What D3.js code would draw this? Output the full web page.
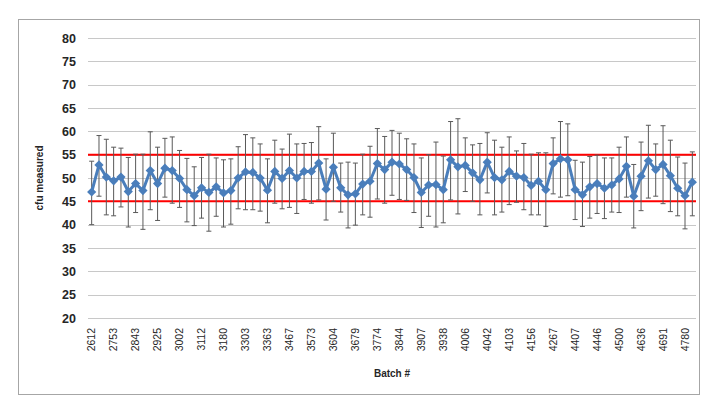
<!DOCTYPE html>
<html>
<head>
<meta charset="utf-8">
<script src="https://cdn.jsdelivr.net/npm/d3@7"></script>
<style>
  html, body { margin: 0; padding: 0; background: #ffffff; }
  svg { display: block; }
</style>
</head>
<body>
<svg id="chart" width="720" height="411"></svg>
<script>
// ---- data ----
const tickLabels = ["2612","2753","2843","2925","3002","3112","3180","3303","3363","3467","3573","3604","3679","3774",
  "3844","3907","3938","4006","4042","4103","4156","4267","4407","4446","4500","4636","4691","4780"];
const labelEvery = 3;
const measured = [47.0,52.8,50.2,49.4,50.2,47.1,48.8,47.3,51.6,48.8,52.1,51.6,49.9,47.5,46.2,47.9,46.9,
  48.1,46.8,47.3,50.0,51.3,51.2,50.0,47.4,51.4,49.9,51.6,50.0,51.4,51.4,53.2,47.6,52.3,47.9,46.4,46.6,
  48.7,49.3,53.1,51.8,53.4,53.0,51.8,50.1,46.9,48.5,48.6,47.5,53.9,52.4,52.7,51.1,49.6,53.4,50.1,49.6,
  51.4,50.4,50.1,48.4,49.3,47.5,53.1,54.1,53.9,47.5,46.4,48.1,48.8,47.8,48.5,49.8,52.5,46.1,50.4,53.7,
  51.8,52.9,50.5,47.8,46.2,49.1];
const upper = [53.6,59.1,58.3,56.6,56.4,54.4,55.1,55.1,59.9,56.6,58.5,58.8,55.9,54.2,52.4,54.4,55.1,
  54.3,53.9,54.1,56.7,59.3,58.6,57.3,54.1,58.1,56.2,59.4,57.3,57.4,57.6,61.0,54.1,59.6,53.2,53.4,53.2,
  55.1,56.8,60.6,58.9,60.2,59.6,58.4,57.3,54.3,55.0,57.7,54.7,62.1,62.7,58.6,57.1,57.4,59.7,58.1,56.6,
  58.8,55.8,57.4,55.1,55.4,55.4,58.6,62.1,61.6,53.8,53.4,54.6,54.9,54.3,54.3,56.6,58.8,52.9,57.7,61.3,
  57.3,61.2,58.1,54.5,53.2,55.6];
const lower = [40.0,46.1,42.1,41.9,43.8,39.5,42.6,39.0,43.2,40.9,45.9,44.6,43.7,40.6,39.8,41.4,38.6,
  41.8,39.5,40.1,43.4,43.2,43.2,42.9,40.4,44.6,43.4,43.7,42.4,45.4,44.6,45.3,41.0,45.0,42.7,39.3,39.9,
  42.1,41.6,45.5,44.6,46.3,45.4,45.2,42.6,39.4,41.8,39.5,40.4,45.3,42.3,47.1,45.0,42.1,46.8,42.1,42.7,
  44.3,44.8,43.2,42.1,42.1,39.6,46.6,45.9,46.2,41.1,39.6,41.4,42.4,41.3,42.7,42.6,45.9,39.3,43.0,45.7,
  46.1,44.5,42.8,41.9,39.1,41.9];
const limits = [45, 55];
const yTicks = d3.range(20, 81, 5);
const yTitle = "cfu measured";
const xTitle = "Batch #";

// ---- layout ----
const svg = d3.select("#chart");
const L = 88, R = 696, T = 38, B = 318;
const fontFam = "'Liberation Sans', Arial, sans-serif";

svg.append("rect").attr("x", 18.5).attr("y", 19.5).attr("width", 681).attr("height", 375)
  .attr("fill", "#fff").attr("stroke", "#a6a6a6").attr("stroke-width", 1);

const idx = d3.range(measured.length);
const x = d3.scaleBand().domain(idx).range([L, R]);
const cx = i => x(i) + x.bandwidth() / 2;
const y = d3.scaleLinear().domain([20, 80]).range([B, T]);

// gridlines
const grid = svg.append("g").attr("transform", `translate(${L},0)`)
  .call(d3.axisLeft(y).tickValues(yTicks).tickSize(-(R - L)).tickFormat(""));
grid.select(".domain").remove();
grid.selectAll("line").attr("stroke", "#c8c8c8").attr("stroke-width", 1)
  .attr("shape-rendering", "crispEdges");

// y labels
const yAx = svg.append("g").attr("transform", `translate(${L - 12},0)`)
  .call(d3.axisLeft(y).tickValues(yTicks).tickSize(0).tickPadding(0));
yAx.select(".domain").remove();
yAx.selectAll("text").attr("font-family", fontFam).attr("font-size", 12.5)
  .attr("font-weight", "bold").attr("fill", "#262626");

// x labels
const xAx = svg.append("g").attr("transform", `translate(0,${B})`)
  .call(d3.axisBottom(x).tickValues(idx.filter(i => i % labelEvery === 0))
    .tickFormat(i => tickLabels[i / labelEvery]).tickSize(0));
xAx.select(".domain").remove();
xAx.selectAll("text")
  .attr("font-family", fontFam).attr("font-size", 10.5).attr("fill", "#262626")
  .attr("transform", "rotate(-90)")
  .attr("text-anchor", "end").attr("dy", "0.35em").attr("x", -10).attr("y", 0);

// limit lines
svg.append("g").selectAll("line").data(limits).join("line")
  .attr("x1", L).attr("x2", R).attr("y1", d => y(d)).attr("y2", d => y(d))
  .attr("stroke", "#ff0000").attr("stroke-width", 2);

// error bars
const eb = svg.append("g").attr("stroke", "#595959").attr("stroke-width", 1);
eb.selectAll(".v").data(idx).join("line")
  .attr("x1", cx).attr("x2", cx).attr("y1", i => y(upper[i])).attr("y2", i => y(lower[i]));
eb.selectAll(".t").data(idx).join("line")
  .attr("x1", i => cx(i) - 2.5).attr("x2", i => cx(i) + 2.5)
  .attr("y1", i => y(upper[i])).attr("y2", i => y(upper[i]));
eb.selectAll(".b").data(idx).join("line")
  .attr("x1", i => cx(i) - 2.5).attr("x2", i => cx(i) + 2.5)
  .attr("y1", i => y(lower[i])).attr("y2", i => y(lower[i]));

// line
svg.append("path").datum(idx)
  .attr("d", d3.line().x(cx).y(i => y(measured[i])))
  .attr("fill", "none").attr("stroke", "#4a7ebb").attr("stroke-width", 3)
  .attr("stroke-linejoin", "round");

// markers
const r = 4.6;
svg.append("g").selectAll("path").data(idx).join("path")
  .attr("d", i => {
    const px = cx(i), py = y(measured[i]);
    return `M${px},${py - r}L${px + r},${py}L${px},${py + r}L${px - r},${py}Z`;
  })
  .attr("fill", "#4a7ebb");

// titles
svg.append("text").attr("transform", `translate(43,${(T + B) / 2}) rotate(-90)`)
  .attr("text-anchor", "middle").attr("font-family", fontFam).attr("font-size", 10)
  .attr("font-weight", "bold").attr("fill", "#262626").text(yTitle);
svg.append("text").attr("x", (L + R) / 2).attr("y", 377)
  .attr("text-anchor", "middle").attr("font-family", fontFam).attr("font-size", 10)
  .attr("font-weight", "bold").attr("fill", "#262626").text(xTitle);
</script>
</body>
</html>
